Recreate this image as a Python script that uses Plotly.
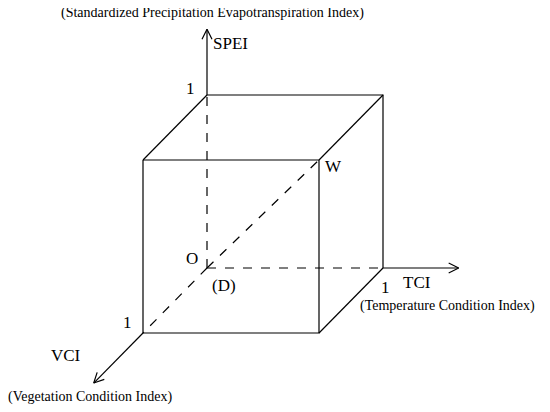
import numpy as np
import plotly.graph_objects as go

# cube corners in (TCI, SPEI, VCI) units
cube_solid = [
    [(0, 1, 0), (1, 1, 0), (1, 0, 0)],
    [(0, 1, 1), (1, 1, 1), (1, 0, 1), (0, 0, 1), (0, 1, 1)],
    [(0, 1, 0), (0, 1, 1)],
    [(1, 1, 0), (1, 1, 1)],
    [(1, 0, 0), (1, 0, 1)],
]
cube_dashed = [
    [(0, 0, 0), (0, 1, 0)],
    [(0, 0, 0), (1, 0, 0)],
    [(0, 0, 0), (0, 0, 1)],
    [(0, 0, 0), (1, 1, 1)],
]
axis_names = ["TCI", "SPEI", "VCI"]
axis_ends = [(1.43, 0, 0), (0, 1.38, 0), (0, 0, 1.77)]
axis_starts = [(1, 0, 0), (0, 1, 0), (0, 0, 1)]


def proj(p):
    t, s, v = p
    return 207 + 176 * t - 64 * v, 268 - 173 * s + 65 * v


fig = go.Figure()
line = dict(color="black", width=1.2)


def add(points, dash="solid"):
    xy = [proj(p) for p in points]
    fig.add_trace(go.Scatter(x=[a for a, b in xy], y=[b for a, b in xy], mode="lines",
                             line=dict(line, dash=dash), hoverinfo="skip"))


for seg in cube_solid:
    add(seg)
for seg in cube_dashed:
    add(seg, "dash")
for a, b in zip(axis_starts, axis_ends):
    add([a, b])
    # open arrowhead
    x0, y0 = proj(a)
    x1, y1 = proj(b)
    d = np.array([x1 - x0, y1 - y0])
    d = d / np.linalg.norm(d)
    n = np.array([-d[1], d[0]])
    tip = np.array([x1, y1])
    l1 = tip - 10 * d + 5 * n
    l2 = tip - 10 * d - 5 * n
    fig.add_trace(go.Scatter(x=[l1[0], x1, l2[0]], y=[l1[1], y1, l2[1]], mode="lines",
                             line=line, hoverinfo="skip"))

big = dict(family="Liberation Serif", size=17, color="black")
small = dict(family="Liberation Serif", size=14, color="black")
labels = [
    (190, 88, "1", big), (230, 43, "SPEI", big),
    (212, 13, "(Standardized Precipitation Evapotranspiration Index)", small),
    (192, 258, "O", big), (224, 285, "(D)", big), (333, 166, "W", big),
    (417, 282, "TCI", big), (385, 287, "1", big),
    (447, 306, "(Temperature Condition Index)", small),
    (127, 322, "1", big), (66, 355, "VCI", big),
    (90, 397, "(Vegetation Condition Index)", small),
]
for x, y, t, f in labels:
    fig.add_annotation(x=x, y=y, text=t, showarrow=False, font=f)

# page body has an 8px margin, so shift the view to line up with the reference
fig.update_xaxes(range=[8, 558], visible=False)
fig.update_yaxes(range=[420, 8], visible=False)
fig.update_layout(width=550, height=412, margin=dict(l=0, r=0, t=0, b=0),
                  showlegend=False, plot_bgcolor="white", paper_bgcolor="white")
fig.write_html("out.html")
